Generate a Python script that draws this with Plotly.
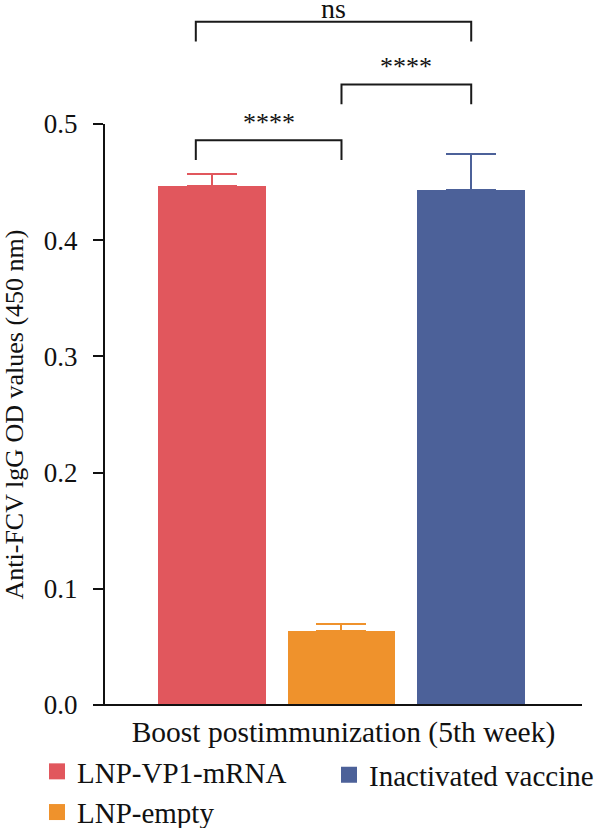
import plotly.graph_objects as go

groups = ["LNP-VP1-mRNA", "LNP-empty", "Inactivated vaccine"]
means = [0.447, 0.064, 0.443]
errors = [0.010, 0.006, 0.031]
colors = ["#E1575D", "#EF922C", "#4C6199"]
x_title = "Boost postimmunization (5th week)"
y_title = "Anti-FCV lgG OD values (450 nm)"
y_ticks = [0.0, 0.1, 0.2, 0.3, 0.4, 0.5]

# significance comparisons: (x start, x end, bracket height, label)
comparisons = [
    (-0.123, 1.0, 0.486, "****"),
    (1.0, 2.0, 0.534, "****"),
    (-0.123, 2.0, 0.588, "ns"),
]
bracket_drop = 0.017

FONT = "Liberation Serif"
XR = [-0.823, 2.854]
YR = [0.0, 0.5]
W, H = 600, 828
ML, MR, MT, MB = 105, 18, 124, 123
PW, PH = W - ML - MR, H - MT - MB

fig = go.Figure()
for i, g in enumerate(groups):
    fig.add_trace(go.Bar(
        x=[i], y=[means[i]], width=0.83, name=g,
        marker=dict(color=colors[i], line=dict(width=0)),
        error_y=dict(type="data", array=[errors[i]], arrayminus=[0], symmetric=False,
                     color=colors[i], thickness=2, width=25),
        showlegend=False,
    ))
# legend entries
for i, g in enumerate(groups):
    fig.add_trace(go.Scatter(
        x=[None], y=[None], mode="markers", name=g,
        marker=dict(symbol="square", size=16, color=colors[i]),
        legend="legend" if i != 2 else "legend2",
    ))

def px(x):
    return (x - XR[0]) / (XR[1] - XR[0])

def py(y):
    return (y - YR[0]) / (YR[1] - YR[0])

for x0, x1, h, lab in comparisons:
    fig.add_shape(type="path", xref="paper", yref="paper",
                  path=f"M{px(x0)},{py(h - bracket_drop)} L{px(x0)},{py(h)} L{px(x1)},{py(h)} L{px(x1)},{py(h - bracket_drop)}",
                  line=dict(color="#1a1a1a", width=2))
    fig.add_annotation(x=px((x0 + x1) / 2), y=py(h), xref="paper", yref="paper",
                       text=lab, showarrow=False, yanchor="bottom",
                       yshift=1 if lab != "ns" else -4,
                       font=dict(family=FONT, size=26 if lab != "ns" else 28, color="#111"))

# x axis baseline extends slightly left of the y axis
fig.add_shape(type="line", xref="paper", yref="paper", x0=-11 / PW, x1=1, y0=0, y1=0,
              line=dict(color="#111", width=2))

fig.update_layout(
    width=W, height=H,
    margin=dict(l=ML, r=MR, t=MT, b=MB, autoexpand=False),
    paper_bgcolor="white", plot_bgcolor="white",
    font=dict(family=FONT, size=28, color="#111"),
    bargap=0,
    xaxis=dict(range=XR, showline=False,
               showticklabels=False, ticks="", showgrid=False, zeroline=False,
               title=dict(text=x_title, font=dict(size=29.5), standoff=16)),
    yaxis=dict(range=YR, showline=True,
               linecolor="#111", linewidth=2, ticks="outside", ticklen=10,
               tickwidth=2, tickcolor="#111", tickvals=y_ticks, tickformat=".1f",
               tickfont=dict(size=27),
               showgrid=False, zeroline=False, ticklabelstandoff=10,
               title=dict(text=y_title, font=dict(size=26), standoff=14)),
    legend=dict(x=(37 - ML) / PW, xanchor="left",
                y=(MT + PH - 792) / PH, yanchor="middle",
                orientation="v", font=dict(size=29), tracegroupgap=0,
                bgcolor="rgba(0,0,0,0)"),
    legend2=dict(x=(329 - ML) / PW, xanchor="left",
                 y=(MT + PH - 775) / PH, yanchor="middle",
                 orientation="v", font=dict(size=29), bgcolor="rgba(0,0,0,0)"),
)

fig.write_html("out.html")
